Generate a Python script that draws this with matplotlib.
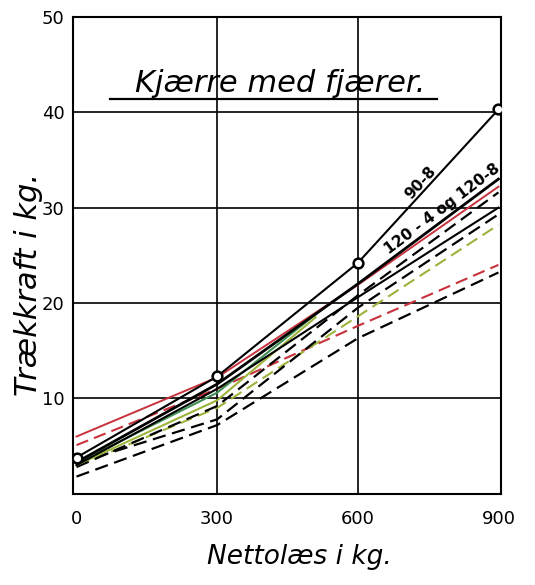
import numpy as np
import matplotlib.pyplot as plt

# Nettolæs (kg)
x = [0, 300, 600, 900]

# solid lines
y_90_8 = [3.8, 12.3, 24.2, 40.3]
y_120 = [3.3, 11.5, 22.0, 33.0]
y_black2 = [3.0, 11.0, 20.6, 30.0]
y_red = [6.0, 12.2, 21.9, 32.2]
x_green = [0, 300, 520]
y_green = [3.2, 10.6, 19.2]
x_yellow = [0, 300, 510]
y_yellow = [3.0, 9.8, 18.5]

# dashed lines
y_red_d = [5.1, 11.0, 17.6, 24.0]
y_yellow_d = [2.9, 9.0, 18.6, 28.2]
y_black_d1 = [2.8, 9.2, 20.8, 31.6]
y_black_d2 = [3.2, 7.8, 19.5, 29.3]
y_black_d3 = [1.8, 7.2, 16.3, 23.2]

xticks = [0, 300, 600, 900]
yticks = [10, 20, 30, 40, 50]


def main():
    fig = plt.figure(figsize=(5.35, 5.85), dpi=100)
    ax = fig.add_axes([0.136, 0.156, 0.80, 0.815])

    red = "#c8323c"
    green = "#3f8f55"
    yellow = "#9cb43c"

    # grid
    for yv in [10, 20, 30, 40]:
        ax.axhline(yv, color="black", lw=1.2, zorder=1)
    for xv in [300, 600]:
        ax.axvline(xv, color="black", lw=1.2, zorder=1)

    dash = (0, (6, 3))
    ax.plot(x, y_red_d, color=red, lw=1.5, ls=dash)
    ax.plot(x, y_yellow_d, color=yellow, lw=1.5, ls=dash)
    ax.plot(x, y_black_d3, color="black", lw=1.6, ls=dash)
    ax.plot(x, y_black_d2, color="black", lw=1.6, ls=dash)
    ax.plot(x, y_black_d1, color="black", lw=1.6, ls=dash)

    ax.plot(x_yellow, y_yellow, color=yellow, lw=1.5)
    ax.plot(x_green, y_green, color=green, lw=1.5)
    ax.plot(x, y_red, color=red, lw=1.4)
    ax.plot(x, y_black2, color="black", lw=1.5)
    ax.plot(x, y_120, color="black", lw=2.0)
    ax.plot(x, y_90_8, color="black", lw=1.5, marker="o", ms=7,
            mfc="white", mec="black", mew=1.8, zorder=5)

    ax.text(735, 32.6, "90-8", rotation=48, fontsize=11, fontweight="bold",
            ha="center", va="center")
    ax.text(780, 29.9, "120 - 4 og 120-8", rotation=37, fontsize=11,
            fontweight="bold", ha="center", va="center")

    # title
    ax.text(435, 43.0, "Kjærre med fjærer.", fontsize=22, style="italic",
            ha="center", va="center")
    ax.plot([72, 770], [41.4, 41.4], color="black", lw=1.6)

    ax.set_xlim(-8, 905)
    ax.set_ylim(0, 50)
    ax.set_xticks(xticks)
    ax.set_yticks(yticks)
    ax.tick_params(length=0, labelsize=13, pad=6)
    ax.tick_params(axis="x", pad=12)
    for s in ax.spines.values():
        s.set_linewidth(1.5)

    ax.set_xlabel("Nettolæs i kg.", fontsize=19, style="italic")
    ax.xaxis.set_label_coords(0.53, -0.105)
    ax.set_ylabel("Trækkraft i kg.", fontsize=22, style="italic")
    ax.yaxis.set_label_coords(-0.07, 0.44)

    fig.savefig("out.png", dpi=100)


if __name__ == '__main__':
    main()
